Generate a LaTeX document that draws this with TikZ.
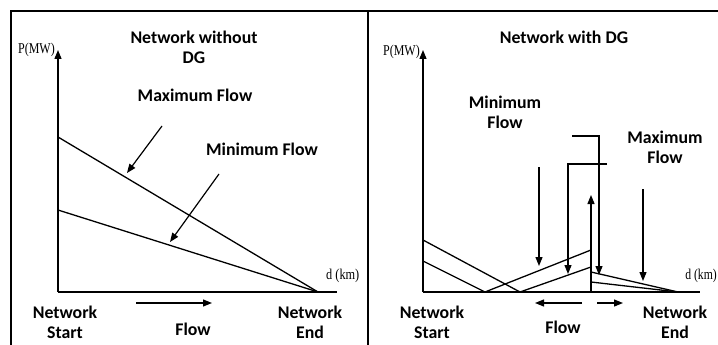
\documentclass[tikz,border=0pt]{standalone}
\usepackage{fontspec}
\setmainfont{Carlito}
\newfontfamily\axisfont{Liberation Serif}
\usetikzlibrary{arrows.meta}
\begin{document}
\begin{tikzpicture}[x=1pt,y=-1pt,
  lbl/.style={font=\bfseries\fontsize{17.8}{20}\selectfont, inner sep=0pt, align=center},
  axlbl/.style={font=\axisfont\fontsize{15}{17}\selectfont, inner sep=0pt},
  axisline/.style={line width=1.3pt, -{Triangle[length=9pt,width=7pt]}},
  curve/.style={line width=1.3pt},
  ptr/.style={line width=1.2pt, -{Triangle[length=9pt,width=7pt]}},
  frame/.style={line width=1.1pt}]
\useasboundingbox (0,0) rectangle (718,345);

% panel frames
\draw[frame] (11,345) -- (11,11) -- (718,11);
\draw[frame] (368,11) -- (368,345);

% ---------- left panel: network without DG ----------
\coordinate (LO) at (58,292);
\coordinate (LY) at (58,50);
\coordinate (LX) at (337,292);
\coordinate (LE) at (318,292);
\coordinate (Lmax) at (58,137);
\coordinate (Lmin) at (58,210);
\draw[axisline] (LO) -- (LY);
\draw[curve] (LO) -- (LX);
\draw[curve] (Lmax) -- (LE);
\draw[curve] (Lmin) -- (LE);

\node[axlbl, anchor=east] (LP) at (55,50) {\scalebox{0.8}[1]{P(MW)}};
\node[axlbl, anchor=west] (LD) at (326,276) {\scalebox{0.82}[1]{d (km)}};

\node[lbl] (Ltitle) at (194,47) {Network without\\DG};
\node[lbl] (Lmaxt) at (195,95) {Maximum Flow};
\node[lbl] (Lmint) at (262,149) {Minimum Flow};
\coordinate (Lp1s) at (162,126); \coordinate (Lp1e) at (127,173);
\coordinate (Lp2s) at (219,174); \coordinate (Lp2e) at (170,242);
\draw[ptr] (Lp1s) -- (Lp1e);
\draw[ptr] (Lp2s) -- (Lp2e);

\node[lbl] (Lstart) at (65,322) {Network\\Start};
\node[lbl] (Lend) at (310,322) {Network\\End};
\node[lbl] (Lflow) at (193,329) {Flow};
\coordinate (Lf1) at (136,303); \coordinate (Lf2) at (212,303);
\draw[ptr] (Lf1) -- (Lf2);

% ---------- right panel: network with DG ----------
\coordinate (RO) at (423,292);
\coordinate (RY) at (423,50);
\coordinate (RX) at (700,292);
\draw[axisline] (RO) -- (RY);
\draw[curve] (RO) -- (RX);

% feeder profile ahead of the DG
\coordinate (Ra) at (423,240);
\coordinate (Rb) at (423,261);
\coordinate (Rz1) at (485,292);
\coordinate (Rz2) at (520,292);
\coordinate (Rg1) at (591,250);
\coordinate (Rg2) at (591,267);
\draw[curve] (Ra) -- (Rz2);
\draw[curve] (Rb) -- (Rz1);
\draw[curve] (Rz1) -- (Rg1);
\draw[curve] (Rz2) -- (Rg2);

% DG injection
\coordinate (Rdg0) at (591,292);
\coordinate (Rdg1) at (591,195);
\draw[ptr] (Rdg0) -- (Rdg1);

% profile after the DG
\coordinate (Rh1) at (591,272);
\coordinate (Rh2) at (591,282);
\coordinate (RE) at (678,292);
\draw[curve] (Rh1) -- (RE);
\draw[curve] (Rh2) -- (RE);

\node[axlbl, anchor=east] (RP) at (420,52) {\scalebox{0.8}[1]{P(MW)}};
\node[axlbl, anchor=east] (RD) at (717,276) {\scalebox{0.78}[1]{d (km)}};

\node[lbl] (Rtitle) at (564,37) {Network with DG};
\node[lbl] (Rmint) at (505,112) {Minimum\\Flow};
\node[lbl] (Rmaxt) at (665,147) {Maximum\\Flow};

\coordinate (Rp1s) at (539,167); \coordinate (Rp1e) at (539,266);
\draw[ptr] (Rp1s) -- (Rp1e);
\coordinate (Rp2s) at (607,164); \coordinate (Rp2c) at (568,164); \coordinate (Rp2e) at (568,274);
\draw[ptr] (Rp2s) -- (Rp2c) -- (Rp2e);
\coordinate (Rp3s) at (572,136); \coordinate (Rp3c) at (599,136); \coordinate (Rp3e) at (599,275);
\draw[ptr] (Rp3s) -- (Rp3c) -- (Rp3e);
\coordinate (Rp4s) at (643,189); \coordinate (Rp4e) at (643,281);
\draw[ptr] (Rp4s) -- (Rp4e);

\node[lbl] (Rstart) at (432,322) {Network\\Start};
\node[lbl] (Rend) at (675,322) {Network\\End};
\node[lbl] (Rflow) at (563,327) {Flow};
\coordinate (Rf0) at (582,303); \coordinate (Rf1) at (535,303);
\coordinate (Rf2) at (597,303); \coordinate (Rf3) at (623,303);
\draw[ptr] (Rf0) -- (Rf1);
\draw[ptr] (Rf2) -- (Rf3);
\end{tikzpicture}
\end{document}
